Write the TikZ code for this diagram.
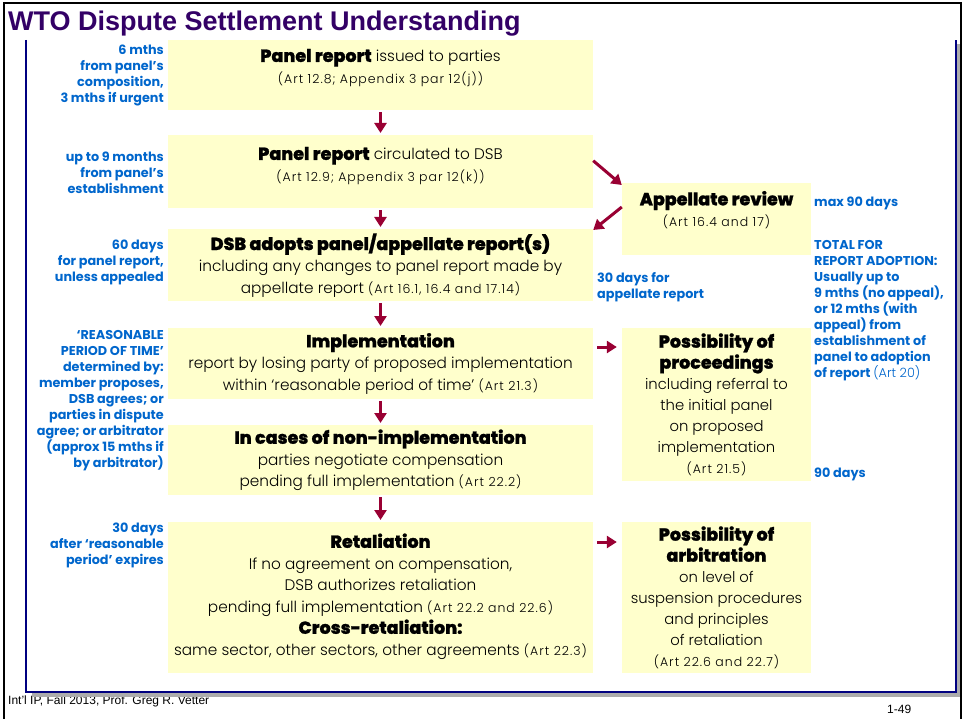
\documentclass[tikz,border=0pt]{standalone}
\usepackage{fontspec}
\usetikzlibrary{arrows.meta}
\setmainfont{Liberation Sans}
\newfontfamily\lightfont{Poppins Light}
\newfontfamily\heavyfont{Poppins ExtraBold}[FakeBold=1.2]
\newfontfamily\notefont{Poppins Bold}
\newfontfamily\reffont{Poppins Light}[LetterSpace=8]
\definecolor{boxyellow}{RGB}{255,255,204}
\definecolor{noteblue}{RGB}{0,102,204}
\definecolor{arrowred}{RGB}{153,0,51}
\definecolor{titlepurple}{RGB}{51,0,102}
\definecolor{framenavy}{RGB}{0,0,128}
\newcommand{\headtxt}{\heavyfont\fontsize{17.5}{21.5}\selectfont}
\newcommand{\artref}{\reffont\fontsize{12.5}{21.5}\selectfont}
\tikzset{
  stepbox/.style={fill=boxyellow, anchor=north, align=center, inner sep=0pt,
    minimum width=425pt, font=\lightfont\fontsize{15.3}{21.5}\selectfont},
  sidebox/.style={stepbox, minimum width=189pt, font=\lightfont\fontsize{14.8}{21}\selectfont},
  note/.style={text=noteblue, inner sep=0pt, font=\notefont\fontsize{12.8}{16}\selectfont},
  leftnote/.style={note, align=right, anchor=north east},
  rightnote/.style={note, align=left, anchor=north west},
  flow/.style={draw=arrowred, line width=3pt, -{Triangle[length=10pt,width=12pt]},
    shorten <=2pt, shorten >=2pt},
}
\begin{document}
\begin{tikzpicture}[x=1pt,y=-1pt]
  \useasboundingbox (0,0) rectangle (963,719);
  \draw[line width=2.5pt] (4,725) -- (4,3) -- (961,3) -- (961,725);

  \node[anchor=base west, inner sep=0pt, text=titlepurple,
    font=\bfseries\fontsize{27}{30}\selectfont] (title) at (8,31) {WTO Dispute Settlement Understanding};

  % main column
  \node[stepbox, minimum height=70pt] (p1) at (380.5,40)
    {{\headtxt Panel report} issued to parties\\ {\artref (Art 12.8; Appendix 3 par 12(j))}\\[-3.5pt] \mbox{}};
  \node[stepbox, minimum height=73pt] (p2) at (380.5,135)
    {{\headtxt Panel report} circulated to DSB\\ {\artref (Art 12.9; Appendix 3 par 12(k))}\\[-6.5pt] \mbox{}};
  \node[stepbox, minimum height=72pt] (p3) at (380.5,229)
    {{\headtxt DSB adopts panel/appellate report(s)}\\ including any changes to panel report made by\\ appellate report {\artref (Art 16.1, 16.4 and 17.14)}};
  \node[stepbox, minimum height=71pt] (p4) at (380.5,328)
    {{\headtxt Implementation}\\ report by losing party of proposed implementation\\ within ‘reasonable period of time’ {\artref (Art 21.3)}};
  \node[stepbox, minimum height=70pt] (p5) at (380.5,425)
    {{\headtxt In cases of non-implementation}\\ parties negotiate compensation\\ pending full implementation {\artref (Art 22.2)}};
  \node[stepbox, minimum height=151pt] (p6) at (380.5,522)
    {{\headtxt Retaliation}\\ If no agreement on compensation,\\ DSB authorizes retaliation\\
     pending full implementation {\artref (Art 22.2 and 22.6)}\\ {\headtxt Cross-retaliation:}\\
     same sector, other sectors, other agreements {\artref (Art 22.3)}\\[-15pt] \mbox{}};

  % side column
  \node[sidebox, minimum height=72pt] (appeal) at (716.5,183)
    {{\headtxt Appellate review}\\ {\artref (Art 16.4 and 17)}\\ \mbox{}};
  \node[sidebox, minimum height=153pt] (proc) at (716.5,328)
    {{\headtxt Possibility of}\\ {\headtxt proceedings}\\ including referral to\\ the initial panel\\
     on proposed\\ implementation\\ {\artref (Art 21.5)}};
  \node[sidebox, minimum height=151pt] (arb) at (716.5,522)
    {{\headtxt Possibility of}\\ {\headtxt arbitration}\\ on level of\\ suspension procedures\\
     and principles\\ of retaliation\\ {\artref (Art 22.6 and 22.7)}};

  \draw[flow] (p1) -- (p2);
  \draw[flow] (p2) -- (p3);
  \draw[flow] (p3) -- (p4);
  \draw[flow] (p4) -- (p5);
  \draw[flow] (p5) -- (p6);
  \draw[flow, shorten <=0pt, shorten >=0pt] ([yshift=11pt]p2.east) -- ([yshift=-2pt]appeal.north west);
  \draw[flow, shorten <=0pt, shorten >=0pt] ([yshift=-24pt]appeal.north west) -- ([yshift=-1pt]p3.north east);
  \draw[flow, shorten <=4pt, shorten >=5pt] ([yshift=-19pt]p4.north east) -- ([yshift=-19pt]proc.north west);
  \draw[flow, shorten <=4pt, shorten >=5pt] ([yshift=-20pt]p6.north east) -- ([yshift=-20pt]arb.north west);

  % time limits
  \node[leftnote] (n1) at (164,44.5) {6 mths\\ from panel’s\\ composition,\\ 3 mths if urgent};
  \node[leftnote] (n2) at (164,151.5) {up to 9 months\\ from panel’s\\ establishment};
  \node[leftnote] (n3) at (164,239.5) {60 days\\ for panel report,\\ unless appealed};
  \node[leftnote] (n4) at (164,330.5) {‘REASONABLE\\ PERIOD OF TIME’\\ determined by:\\ member proposes,\\
    DSB agrees; or\\ parties in dispute\\ agree; or arbitrator\\ (approx 15 mths if\\ by arbitrator)};
  \node[leftnote] (n5) at (164,522.5) {30 days\\ after ‘reasonable\\ period’ expires};
  \node[rightnote] (n6) at (814,196.5) {max 90 days};
  \node[rightnote] (n7) at (814,240.5) {TOTAL FOR\\ REPORT ADOPTION:\\ Usually up to\\ 9 mths (no appeal),\\
    or 12 mths (with\\ appeal) from\\ establishment of\\ panel to adoption\\ of report {\lightfont (Art 20)}};
  \node[rightnote] (n8) at (814,467.5) {90 days};
  \node[rightnote] (n9) at (597,272.5) {30 days for\\ appellate report};

  \node[anchor=base west, inner sep=0pt, font=\fontsize{12}{14}\selectfont] (footer) at (8,704)
    {Int'l IP, Fall 2013, Prof. Greg R. Vetter};
  \node[anchor=base west, inner sep=0pt, font=\fontsize{12}{14}\selectfont] (pagenum) at (887,713) {1-49};

  \fill[gray!65] (32,693) rectangle (960,697);
  \fill[gray!65] (957,44) rectangle (960,697);
  \draw[framenavy, line width=1.5pt] (26,40) -- (26,692) -- (956,692) -- (956,40);
\end{tikzpicture}
\end{document}
